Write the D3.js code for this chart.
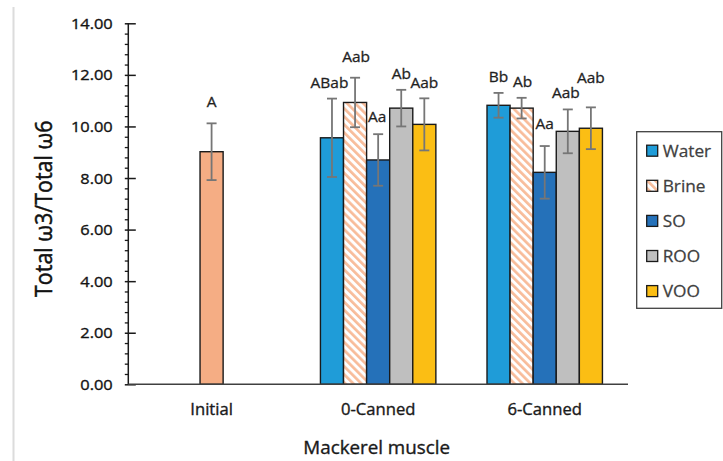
<!DOCTYPE html>
<html>
<head>
<meta charset="utf-8">
<script src="https://cdn.jsdelivr.net/npm/d3@7"></script>
<style>
  html, body { margin: 0; padding: 0; background: #fff; }
  svg { display: block; font-family: "Open Sans", "Noto Sans", sans-serif; }
</style>
</head>
<body>
<svg id="chart" width="723" height="461"></svg>
<script>
// Categories and series
const categories = ["Initial", "0-Canned", "6-Canned"];
const seriesNames = ["Water", "Brine", "SO", "ROO", "VOO"];

// Raw muscle (single bar)
const initialMean = 9.02;
const initialErr = 1.10;
const initialLetter = "A";

// Canned samples: [0-Canned, 6-Canned]
const meanWater = [9.56, 10.82];
const meanBrine = [10.93, 10.71];
const meanSO    = [8.70, 8.22];
const meanROO   = [10.71, 9.81];
const meanVOO   = [10.08, 9.93];

const errWater = [1.52, 0.48];
const errBrine = [0.96, 0.40];
const errSO    = [1.00, 1.02];
const errROO   = [0.71, 0.85];
const errVOO   = [1.01, 0.81];

const lettersWater = ["ABab", "Bb"];
const lettersBrine = ["Aab", "Ab"];
const lettersSO    = ["Aa", "Aa"];
const lettersROO   = ["Ab", "Aab"];
const lettersVOO   = ["Aab", "Aab"];

// Axis ticks
const yMajorTicks = [0, 2, 4, 6, 8, 10, 12, 14];

// ---- styling / layout ----
const colors = {
  Initial: "#f5ad84",
  Water: "#1f9cd8",
  Brine: "url(#brineHatch)",
  SO: "#2571b9",
  ROO: "#bfbfbf",
  VOO: "#fbbe14"
};
// hand placement of the significance letters: [dx, gap above the error cap]
const letterNudge = {
  Initial: [0, 16],
  Water: [[-2.5, 11], [0, 11]],
  Brine: [[1, 15.5], [1, 11]],
  SO:    [[-1, 12.5], [0, 17]],
  ROO:   [[0, 11], [-2, 11]],
  VOO:   [[0, 10.5], [0, 24.5]]
};
const SX = 1.08; // horizontal text widening

const svg = d3.select("#chart");
const margin = { left: 128.3, right: 95, top: 23.3, bottom: 76.7 };
const W = 723, H = 461;
const x0 = margin.left, x1 = W - margin.right;
const yBottom = H - margin.bottom, yTop = margin.top;

const defs = svg.append("defs");
const pat = defs.append("pattern")
  .attr("id", "brineHatch")
  .attr("patternUnits", "userSpaceOnUse")
  .attr("width", 5.7).attr("height", 5.7)
  .attr("patternTransform", "rotate(-45)");
pat.append("rect").attr("width", 5.7).attr("height", 5.7).attr("fill", "#ffffff");
pat.append("rect").attr("width", 2.7).attr("height", 5.7).attr("fill", "#f8bc9a");

// outer chart frame edge
svg.append("line")
  .attr("x1", 13.5).attr("x2", 13.5).attr("y1", 7).attr("y2", H)
  .attr("stroke", "#dcdcdc").attr("stroke-width", 2);

const x = d3.scaleBand().domain(categories).range([x0, x1]).paddingInner(0).paddingOuter(0);
const y = d3.scaleLinear().domain([0, 14]).range([yBottom, yTop]);

const groupW = x.bandwidth() * 0.693;
const xs = d3.scaleBand().domain(seriesNames).range([0, groupW]);
const barW = xs.bandwidth();

function stretchedText(g, px, py, txt, opts) {
  const fill = opts.fill || "#1a1a1a";
  return g.append("text")
    .attr("transform", `translate(${px},${py}) scale(${SX},1)` + (opts.rotate ? ` rotate(${opts.rotate})` : ""))
    .attr("text-anchor", opts.anchor || "middle")
    .attr("font-size", opts.size)
    .attr("fill", fill)
    .attr("stroke", fill)
    .attr("stroke-width", opts.weight == null ? 0.35 : opts.weight)
    .text(txt);
}

// Build bar records
const means = { Water: meanWater, Brine: meanBrine, SO: meanSO, ROO: meanROO, VOO: meanVOO };
const errs = { Water: errWater, Brine: errBrine, SO: errSO, ROO: errROO, VOO: errVOO };
const letters = { Water: lettersWater, Brine: lettersBrine, SO: lettersSO, ROO: lettersROO, VOO: lettersVOO };

const bars = [{
  key: "Initial",
  x: x("Initial") + (x.bandwidth() - barW) / 2,
  v: initialMean, e: initialErr, letter: initialLetter, nudge: letterNudge.Initial
}];
categories.slice(1).forEach((c, ci) => {
  seriesNames.forEach(s => {
    bars.push({
      key: s,
      x: x(c) + (x.bandwidth() - groupW) / 2 + xs(s),
      v: means[s][ci], e: errs[s][ci], letter: letters[s][ci], nudge: letterNudge[s][ci]
    });
  });
});

const gBars = svg.append("g");
gBars.selectAll("rect").data(bars).join("rect")
  .attr("x", d => d.x)
  .attr("y", d => y(d.v))
  .attr("width", barW)
  .attr("height", d => y(0) - y(d.v))
  .attr("fill", d => colors[d.key])
  .attr("stroke", "#1a1a1a")
  .attr("stroke-width", 1.4);

// error bars
const gErr = svg.append("g").attr("stroke", "#767676").attr("stroke-width", 1.8);
bars.forEach(d => {
  const cx = d.x + barW / 2;
  gErr.append("line").attr("x1", cx).attr("x2", cx).attr("y1", y(d.v + d.e)).attr("y2", y(d.v - d.e));
  [d.v + d.e, d.v - d.e].forEach(v => {
    gErr.append("line").attr("x1", cx - 5).attr("x2", cx + 5).attr("y1", y(v)).attr("y2", y(v));
  });
});

// significance letters
const gLetters = svg.append("g");
bars.forEach(d => {
  stretchedText(gLetters, d.x + barW / 2 + d.nudge[0], y(d.v + d.e) - d.nudge[1], d.letter,
    { size: 14.3, fill: "#1f1f1f", weight: 0.3 });
});

// y axis
const gy = svg.append("g").attr("transform", `translate(${x0},0)`);
gy.call(d3.axisLeft(y).tickValues(yMajorTicks).tickSize(3.5).tickFormat(""))
  .call(g => g.select(".domain").remove())
  .call(g => g.selectAll(".tick line").attr("x2", -3.5).attr("x1", 7.5).attr("stroke", "#1a1a1a").attr("stroke-width", 1.5));
const minorTicks = d3.range(0, 14.0001, 0.4).map(v => +v.toFixed(1)).filter(v => !yMajorTicks.includes(v));
gy.append("g").call(d3.axisLeft(y).tickValues(minorTicks).tickSize(3.5).tickFormat(""))
  .call(g => g.select(".domain").remove())
  .call(g => g.selectAll(".tick line").attr("stroke", "#1a1a1a").attr("stroke-width", 1.3));
gy.append("line").attr("x1", 0).attr("x2", 0).attr("y1", y(14)).attr("y2", y(0))
  .attr("stroke", "#1a1a1a").attr("stroke-width", 1.5);
yMajorTicks.forEach(v => {
  stretchedText(svg, x0 - 15.6, y(v) + 5.6, d3.format(".2f")(v), { size: 15.2, anchor: "end", fill: "#141414" });
});

// x axis
svg.append("line").attr("x1", x0).attr("x2", x1).attr("y1", y(0)).attr("y2", y(0))
  .attr("stroke", "#404040").attr("stroke-width", 1.5);
categories.forEach(c => {
  stretchedText(svg, x(c) + x.bandwidth() / 2, 415, c, { size: 15.4, fill: "#1a1a1a" });
});

// axis titles
stretchedText(svg, (x0 + x1) / 2 - 1.5, 454, "Mackerel muscle", { size: 17.4, fill: "#1a1a1a" });
svg.append("text")
  .attr("transform", `translate(52,${(yTop + yBottom) / 2 + 5}) scale(${SX},1) rotate(-90)`)
  .attr("text-anchor", "middle")
  .attr("font-size", 21.5)
  .attr("fill", "#111")
  .attr("stroke", "#111")
  .attr("stroke-width", 0.45)
  .text("Total ω3/Total ω6");

// legend
const lg = svg.append("g").attr("transform", "translate(636.7,131.7)");
lg.append("rect").attr("width", 85).attr("height", 176.6)
  .attr("fill", "#fff").attr("stroke", "#404040").attr("stroke-width", 1.3);
seriesNames.forEach((s, i) => {
  const cy = 19 + i * 35.1;
  lg.append("rect").attr("x", 10).attr("y", cy - 5.5).attr("width", 11).attr("height", 11)
    .attr("fill", colors[s]).attr("stroke", "#1a1a1a").attr("stroke-width", 1.3);
  stretchedText(lg, 26, cy + 5.8, s, { size: 16, anchor: "start", fill: "#404040", weight: 0.25 });
});
</script>
</body>
</html>
